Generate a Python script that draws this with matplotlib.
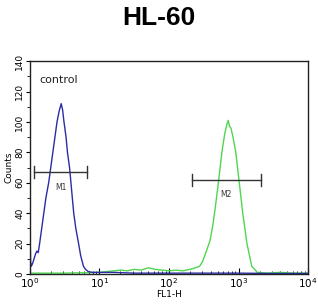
import matplotlib
matplotlib.use("Agg")
import matplotlib.pyplot as plt
from matplotlib.ticker import LogLocator, MultipleLocator, NullFormatter

# Data (log10 of FL1-H, counts)
blue_logx = [0.00, 0.005, 0.01, 0.02, 0.04, 0.06, 0.08, 0.10, 0.12, 0.14, 0.17, 0.20, 0.23,
             0.27, 0.30, 0.33, 0.36, 0.39, 0.42, 0.45, 0.47, 0.49, 0.52, 0.54, 0.57,
             0.59, 0.61, 0.63, 0.66, 0.70, 0.73, 0.77, 0.80, 0.84, 0.90, 1.0, 1.2,
             1.5, 2.0, 2.5, 3.0, 3.5, 4.0]
blue_counts = [33, 20, 8, 5, 7, 10, 13, 15, 14, 20, 30, 40, 50,
               60, 70, 80, 90, 100, 107, 112, 108, 100, 90, 80, 70,
               60, 50, 40, 30, 20, 12, 5, 3, 1.5, 1, 1, 1,
               0.5, 0.5, 0.5, 0.5, 0.3, 0.3]

green_logx = [0.00, 0.5, 1.0, 1.1, 1.2, 1.3, 1.4, 1.5, 1.6, 1.7, 1.8, 1.9, 2.0, 2.1,
              2.2, 2.3, 2.38, 2.44, 2.48, 2.53, 2.59, 2.63, 2.66, 2.71, 2.76, 2.80,
              2.83, 2.85, 2.87, 2.89, 2.92, 2.96, 3.01, 3.06, 3.12, 3.19, 3.27,
              3.4, 3.6, 3.8, 4.0]
green_counts = [0.5, 0.5, 1, 1.5, 2, 2.5, 2, 3, 2.5, 4, 3, 2.5, 2, 2.5,
                2, 3, 4, 5, 8, 14, 22, 32, 42, 60, 80, 92,
                98, 101, 97, 96, 90, 80, 60, 40, 20, 5, 1,
                0.5, 1, 0.5, 0.5]

m1_range = [10**0.06, 10**0.82]
m1_level = 67
m2_range = [10**2.33, 10**3.32]
m2_level = 62

fig = plt.figure(figsize=(3.18, 3.04), dpi=100)
ax = fig.add_axes([0.094, 0.099, 0.875, 0.700])

bx = [10**v for v in blue_logx]
gx = [10**v for v in green_logx]
ax.plot(gx, green_counts, color="#4fd64f", lw=1.0)
ax.plot(bx, blue_counts, color="#2b2ba6", lw=1.0)

for rng, lvl, lab in [(m1_range, m1_level, "M1"), (m2_range, m2_level, "M2")]:
    ax.plot(rng, [lvl, lvl], color="#333333", lw=1.0)
    for xv in rng:
        ax.plot([xv, xv], [lvl - 4, lvl + 4], color="#333333", lw=1.0)
    xm = (rng[0] * rng[1]) ** 0.5
    ax.text(xm, lvl - 7, lab, ha="center", va="top", fontsize=5.5, color="#333333")

ax.text(1.35, 131, "control", ha="left", va="top", fontsize=8, color="#222222")

ax.set_xscale("log")
ax.set_xlim(1, 1e4)
ax.set_ylim(0, 140)
ax.xaxis.set_major_locator(LogLocator(base=10, numticks=10))
ax.xaxis.set_minor_locator(LogLocator(base=10, subs=range(2, 10), numticks=20))
ax.xaxis.set_minor_formatter(NullFormatter())
ax.yaxis.set_major_locator(MultipleLocator(20))
ax.yaxis.set_minor_locator(MultipleLocator(10))
ax.tick_params(axis="x", which="major", direction="in", length=4, labelsize=7.5, pad=2)
ax.tick_params(axis="x", which="minor", direction="in", length=2)
ax.tick_params(axis="y", which="major", direction="out", length=3, labelsize=6.5, pad=1)
ax.tick_params(axis="y", which="minor", direction="out", length=2)
for lbl in ax.get_yticklabels():
    lbl.set_rotation(90)
    lbl.set_va("center")
for s in ax.spines.values():
    s.set_linewidth(1.0)
    s.set_color("#222222")

ax.set_xlabel("FL1-H", fontsize=6.5, labelpad=0)
ax.set_ylabel("Counts", fontsize=6.5, labelpad=1)
fig.suptitle("HL-60", fontsize=19, fontweight="bold", y=0.98, va="top",
             family="Liberation Sans")

fig.savefig("out.png", dpi=100)
